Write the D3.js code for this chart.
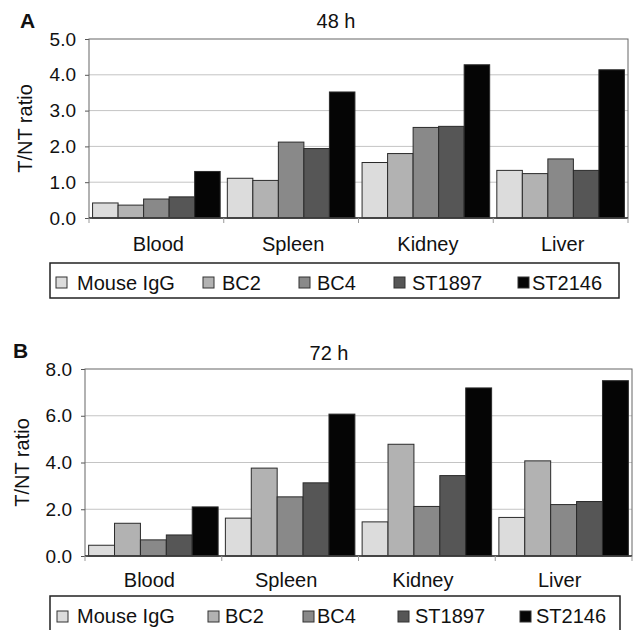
<!DOCTYPE html>
<html>
<head>
<meta charset="utf-8">
<script src="https://cdn.jsdelivr.net/npm/d3@7"></script>
<style>
  body { margin: 0; background: #fff; }
  svg { display: block; font-family: 'Liberation Sans', Arial, sans-serif; }
</style>
</head>
<body>
<svg id="chart" width="636" height="630"></svg>
<script>
// tissues and antibodies
const tissues = ['Blood', 'Spleen', 'Kidney', 'Liver'];
const antibodies = ['Mouse IgG', 'BC2', 'BC4', 'ST1897', 'ST2146'];

// T/NT ratio, one row per antibody, columns follow tissues
const values48h = [
  [0.42, 1.11, 1.55, 1.33],
  [0.36, 1.05, 1.80, 1.24],
  [0.53, 2.12, 2.53, 1.65],
  [0.59, 1.94, 2.56, 1.33],
  [1.30, 3.52, 4.28, 4.14]
];
const values72h = [
  [0.46, 1.62, 1.46, 1.65],
  [1.40, 3.76, 4.78, 4.07],
  [0.69, 2.53, 2.12, 2.20],
  [0.90, 3.13, 3.44, 2.33],
  [2.10, 6.07, 7.19, 7.50]
];
const ticks48h = [0, 1, 2, 3, 4, 5];
const ticks72h = [0, 2, 4, 6, 8];

const colors = ['#dcdcdc', '#b2b2b2', '#898989', '#565656', '#050505'];

const svg = d3.select('#chart');

function drawPanel(p) {
  const g = svg.append('g');

  const x = d3.scaleBand().domain(tissues).range([p.left, p.right]).paddingInner(0).paddingOuter(0);
  const xs = d3.scaleBand().domain(antibodies).range([0, x.bandwidth()]).paddingInner(0).paddingOuter(0.14);
  const y = d3.scaleLinear().domain([0, d3.max(p.ticks)]).range([p.bottom, p.top]);

  // grid
  g.selectAll('.grid')
    .data(p.ticks.slice(1, -1))
    .enter()
    .append('line')
    .attr('x1', p.left).attr('x2', p.right)
    .attr('y1', d => y(d)).attr('y2', d => y(d))
    .attr('stroke', '#c4c4c4')
    .attr('stroke-width', 1);

  // y axis
  const yAxis = d3.axisLeft(y).tickValues(p.ticks).tickFormat(d3.format('.1f')).tickSize(4).tickPadding(9);
  const ya = g.append('g').attr('transform', `translate(${p.left},0)`).call(yAxis);
  ya.select('.domain').remove();
  ya.selectAll('line').attr('stroke', '#555');
  ya.selectAll('text').attr('font-size', 19).attr('fill', '#111').attr('font-family', 'Liberation Sans, Arial, sans-serif');

  // bars
  antibodies.forEach((ab, i) => {
    g.selectAll('.bar' + i)
      .data(p.values[i])
      .enter()
      .append('rect')
      .attr('x', (d, j) => x(tissues[j]) + xs(ab))
      .attr('y', d => y(d))
      .attr('width', xs.bandwidth())
      .attr('height', d => y(0) - y(d))
      .attr('fill', colors[i])
      .attr('stroke', '#2a2a2a')
      .attr('stroke-width', 1);
  });

  // plot frame
  g.append('rect')
    .attr('x', p.left).attr('y', p.top)
    .attr('width', p.right - p.left).attr('height', p.bottom - p.top)
    .attr('fill', 'none')
    .attr('stroke', '#666')
    .attr('stroke-width', 1);

  // x axis
  const xa = g.append('g').attr('transform', `translate(0,${p.bottom})`);
  xa.append('line').attr('x1', p.left).attr('x2', p.right).attr('stroke', '#333').attr('stroke-width', 1.5);
  xa.selectAll('.xt')
    .data(tissues.concat(['end']))
    .enter()
    .append('line')
    .attr('x1', d => d === 'end' ? p.right : x(d))
    .attr('x2', d => d === 'end' ? p.right : x(d))
    .attr('y1', 0).attr('y2', 5)
    .attr('stroke', '#999');
  xa.selectAll('.xl')
    .data(tissues)
    .enter()
    .append('text')
    .attr('x', d => x(d) + x.bandwidth() / 2 + p.labelShift)
    .attr('y', p.labelY - p.bottom)
    .attr('text-anchor', 'middle')
    .attr('font-size', 20)
    .attr('fill', '#111')
    .text(d => d);

  // y title
  g.append('text')
    .attr('transform', `translate(${p.yTitleX},${(p.top + p.bottom) / 2}) rotate(-90)`)
    .attr('text-anchor', 'middle')
    .attr('font-size', 20)
    .attr('fill', '#111')
    .text('T/NT ratio');

  // title + panel letter
  g.append('text').attr('x', p.titleX).attr('y', p.titleY).attr('text-anchor', 'middle')
    .attr('font-size', 20).attr('fill', '#111').text(p.title);
  g.append('text').attr('x', p.letterX).attr('y', p.letterY)
    .attr('font-size', 21).attr('font-weight', 'bold').attr('fill', '#111').text(p.letter);

  // legend
  const lg = g.append('g');
  lg.append('rect')
    .attr('x', p.legend.x).attr('y', p.legend.y)
    .attr('width', p.legend.w).attr('height', p.legend.h)
    .attr('fill', '#fff').attr('stroke', '#222').attr('stroke-width', 1.5);
  const items = lg.selectAll('.li')
    .data(antibodies)
    .enter()
    .append('g')
    .attr('transform', (d, i) => `translate(${p.legend.itemX[i]},${p.legend.y})`);
  items.append('rect')
    .attr('x', 0).attr('y', p.legend.swatchY)
    .attr('width', 11).attr('height', 11)
    .attr('fill', (d, i) => colors[i])
    .attr('stroke', '#333').attr('stroke-width', 1);
  items.append('text')
    .attr('x', (d, i) => p.legend.textDx[i])
    .attr('y', p.legend.textY)
    .attr('font-size', 20)
    .attr('fill', '#111')
    .text(d => d);
}

drawPanel({
  values: values48h, ticks: ticks48h, title: '48 h', letter: 'A',
  left: 89, right: 628, top: 39, bottom: 218,
  labelY: 251, labelShift: 2,
  yTitleX: 32, titleX: 336, titleY: 28, letterX: 20, letterY: 28,
  legend: { x: 50, y: 263, w: 569, h: 35, swatchY: 14, textY: 27,
    itemX: [56, 203, 299, 394, 518], textDx: [21, 19, 18, 18, 14] }
});

drawPanel({
  values: values72h, ticks: ticks72h, title: '72 h', letter: 'B',
  left: 85, right: 632, top: 369, bottom: 556,
  labelY: 587, labelShift: -4,
  yTitleX: 29, titleX: 329, titleY: 360, letterX: 13, letterY: 358,
  legend: { x: 50, y: 596, w: 570, h: 40, swatchY: 15, textY: 27,
    itemX: [57, 208, 303, 398, 520], textDx: [20, 17, 14, 17, 16] }
});
</script>
</body>
</html>
